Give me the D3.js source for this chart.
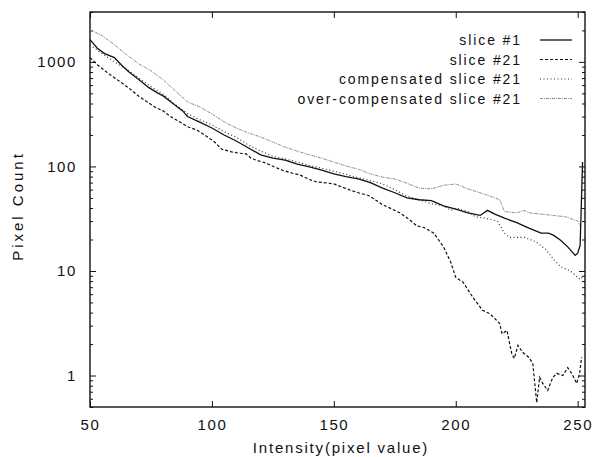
<!DOCTYPE html>
<html>
<head>
<meta charset="utf-8">
<script src="https://cdn.jsdelivr.net/npm/d3@7"></script>
<style>
  body { margin: 0; background: #fff; }
  text { font-family: "Liberation Sans", Arial, sans-serif; fill: #111; }
</style>
</head>
<body>
<div id="chart"></div>
<script>
// intensity values (x) and pixel counts (y) per curve
var slice1X = [50, 53, 56, 60, 63, 66, 70, 74, 78, 80, 84, 88, 90, 95, 100, 105, 110, 115, 120, 125, 130, 135, 140, 145, 150, 155, 160, 165, 170, 175, 180, 185, 190, 195, 200, 205, 210, 213, 216, 220, 225, 230, 235, 238, 240, 243, 246, 249, 250, 251, 252]
var slice1Y = [1630, 1350, 1200, 1100, 930, 800, 680, 570, 500, 473, 400, 340, 300, 265, 233, 200, 175, 150, 129, 120, 115, 105, 99, 92, 85, 80, 76, 70, 62, 56, 50, 48, 47, 42, 39, 36, 34, 38, 35, 32, 29, 25.7, 23, 23, 22, 19.7, 16.9, 14.1, 14.8, 17.6, 110]

var slice21X = [50, 53, 58, 63, 66, 70, 73, 77, 80, 83, 87, 90, 94, 97, 101, 104, 108, 111, 114, 116, 118, 122, 126, 129, 133, 136, 140, 143, 146, 150, 153, 157, 160, 164, 167, 170, 174, 177, 181, 184, 187, 191, 195, 198, 200, 203, 207, 211, 214, 218, 219, 221, 223, 224, 225.5, 227.5, 230, 231.6, 232.4, 233.2, 234.4, 235.7, 237.7, 239.8, 241.4, 243.9, 245.9, 247.5, 249.6, 250.8, 251.6]
var slice21Y = [1100, 940, 760, 630, 560, 470, 420, 365, 340, 300, 265, 240, 222, 200, 172, 146, 138, 134, 132, 120, 115, 108, 98, 92, 86, 83, 75, 71, 70, 68, 64, 59, 56, 53, 48, 43, 39, 36, 31, 27, 26, 23, 17, 12, 8.7, 7.8, 5.6, 4.2, 3.9, 3.15, 2.5, 2.7, 1.6, 1.46, 1.94, 1.66, 1.49, 1.3, 0.84, 0.55, 0.96, 0.84, 0.72, 0.96, 1.05, 1.0, 1.19, 1.05, 0.84, 1.05, 1.49]

var compX = [50, 55, 60, 65, 70, 75, 80, 85, 90, 95, 100, 105, 110, 115, 120, 125, 130, 135, 140, 145, 150, 155, 160, 165, 170, 175, 180, 185, 190, 195, 198, 200, 205, 208, 212, 217, 220, 222, 228, 233, 237, 240, 243, 247, 251, 252]
var compY = [1450, 1200, 1000, 850, 700, 580, 490, 390, 320, 280, 250, 215, 190, 160, 140, 125, 118, 110, 102, 96, 90, 84, 78, 73, 68, 60, 52, 48, 44, 42, 38, 40, 37, 33, 32, 30, 23, 21, 21, 19, 16, 13, 11, 10, 8.3, 8.8]

var overX = [50, 55, 60, 65, 70, 75, 80, 85, 90, 95, 100, 105, 110, 115, 120, 125, 130, 135, 140, 145, 150, 155, 160, 165, 170, 175, 180, 185, 190, 195, 200, 205, 210, 215, 218, 220, 225, 228, 230, 235, 240, 245, 250, 251]
var overY = [2030, 1780, 1460, 1170, 958, 822, 674, 528, 414, 371, 318, 267, 233, 209, 191, 171, 153, 140, 129, 120, 110, 101, 94, 85, 79, 76, 69, 62, 61, 66, 68, 61, 56, 51, 48, 37, 36, 38, 36, 35, 34, 33, 30, 27]

var seriesNames = ["slice #1", "slice #21", "compensated slice #21", "over-compensated slice #21"]
var xTicks = [50, 100, 150, 200, 250]
var yTicks = [1, 10, 100, 1000]

var W = 592, H = 457
var svg = d3.select("#chart").append("svg")
	.attr("width", W)
	.attr("height", H)

var mLeft = 90, mRight = 585, mTop = 12, mBottom = 407

var x = d3.scaleLinear().domain([50, 253]).range([mLeft, mRight])
var y = d3.scaleLog().domain([0.5, 3000]).range([mBottom, mTop])

// minor ticks 2..9 for each decade inside the domain
var minor = []
for (var d = 0.1; d <= 1000; d *= 10) {
	for (var k = 2; k <= 9; k++) {
		var v = +(d * k).toPrecision(3)
		if (v >= 0.5 && v <= 3000) minor.push(v)
	}
}

function clean(g) { g.select(".domain").remove(); g.selectAll("line").attr("stroke", "#111") }

var tickFont = function (g) {
	g.selectAll("text")
		.style("font-size", "15px")
		.style("letter-spacing", "1.6px")
		.attr("fill", "#111")
}

svg.append("g").attr("transform", "translate(" + mLeft + ",0)")
	.call(d3.axisLeft(y).tickValues(yTicks).tickSize(-6).tickPadding(13).tickFormat(d3.format("d")))
	.call(clean).call(tickFont)
svg.append("g").attr("transform", "translate(" + mLeft + ",0)")
	.call(d3.axisLeft(y).tickValues(minor).tickSize(-3).tickFormat(""))
	.call(clean)
svg.append("g").attr("transform", "translate(" + mRight + ",0)")
	.call(d3.axisRight(y).tickValues(yTicks).tickSize(-6).tickFormat(""))
	.call(clean)
svg.append("g").attr("transform", "translate(" + mRight + ",0)")
	.call(d3.axisRight(y).tickValues(minor).tickSize(-3).tickFormat(""))
	.call(clean)
svg.append("g").attr("transform", "translate(0," + mBottom + ")")
	.call(d3.axisBottom(x).tickValues(xTicks).tickSize(-6).tickPadding(12))
	.call(clean).call(tickFont)
svg.append("g").attr("transform", "translate(0," + mTop + ")")
	.call(d3.axisTop(x).tickValues(xTicks).tickSize(-6).tickFormat(""))
	.call(clean)

svg.append("rect")
	.attr("x", mLeft).attr("y", mTop)
	.attr("width", mRight - mLeft).attr("height", mBottom - mTop)
	.attr("fill", "none").attr("stroke", "#111").attr("stroke-width", 1.4)

// curves
var styles = [
	{ color: "#111", width: 1.3, dash: null },
	{ color: "#111", width: 1.2, dash: "3,2" },
	{ color: "#333", width: 1.2, dash: "1,2.5" },
	{ color: "#8a8a8a", width: 1, dash: "3,1,1,1" }
]
var xs = [slice1X, slice21X, compX, overX]
var ys = [slice1Y, slice21Y, compY, overY]

var line = d3.line()
	.x(function (d) { return x(d[0]) })
	.y(function (d) { return y(d[1]) })

for (var i = 3; i >= 0; i--) {
	var pts = xs[i].map(function (v, j) { return [v, ys[i][j]] })
	svg.append("path")
		.datum(pts)
		.attr("d", line)
		.attr("fill", "none")
		.attr("stroke", styles[i].color)
		.attr("stroke-width", styles[i].width)
		.attr("stroke-dasharray", styles[i].dash)
}

// legend
var legend = svg.append("g")
seriesNames.forEach(function (name, i) {
	var cy = 40 + i * 19.5
	legend.append("text")
		.attr("x", 522).attr("y", cy + 5)
		.attr("text-anchor", "end")
		.style("font-size", "14px")
		.style("letter-spacing", "1.9px")
		.text(name)
	legend.append("line")
		.attr("x1", 540).attr("x2", 572)
		.attr("y1", cy).attr("y2", cy)
		.attr("stroke", styles[i].color)
		.attr("stroke-width", styles[i].width)
		.attr("stroke-dasharray", styles[i].dash)
})

// axis titles
svg.append("text")
	.attr("x", 341).attr("y", 453)
	.attr("text-anchor", "middle")
	.style("font-size", "15px")
	.style("letter-spacing", "1.8px")
	.text("Intensity(pixel value)")

svg.append("text")
	.attr("transform", "translate(23,206) rotate(-90)")
	.attr("text-anchor", "middle")
	.style("font-size", "15px")
	.style("letter-spacing", "3px")
	.text("Pixel Count")
</script>
</body>
</html>
